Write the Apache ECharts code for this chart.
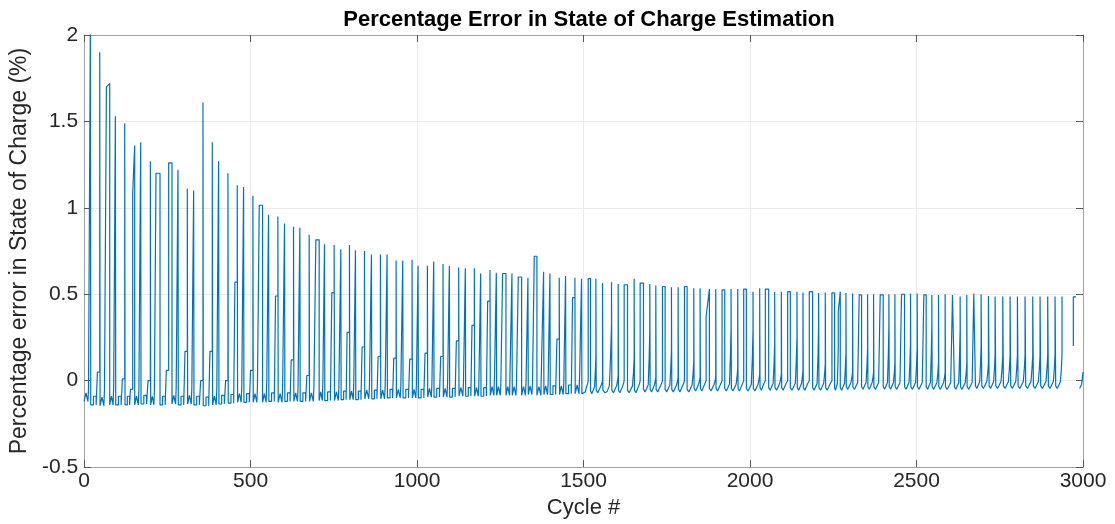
<!DOCTYPE html>
<html>
<head>
<meta charset="utf-8">
<script src="https://cdn.jsdelivr.net/npm/echarts@6/dist/echarts.min.js"></script>
<style>
html,body{margin:0;padding:0;background:#fff;}
#chart{width:1115px;height:524px;}
</style>
</head>
<body>
<div id="chart"></div>
<script>
// Cycle at which each spike rises, and at which it falls back
const riseAt = [19,47,67,94,122,146,170,199,216,254,282,310,329,357,385,404,432,460,479,507,526,554,582,602,629,648,676,696,722,751,771,
  797,815,842,863,890,910,937,957,985,1003,1031,1050,1078,1097,1125,1145,1172,1191,1219,1238,1257,1285,1304,1333,1352,1380,1399,1427,1446,1474,1494,1514,
  1537,1557,1584,1604,1622,1652,1670,1699,1717,1737,1764,1784,1803,1831,1850,1868,1897,1916,1943,1963,1981,2009,2029,2046,2074,2094,2113,2141,2159,2178,2206,2226,2246,
  2265,2288,2308,2328,2353,2371,2391,2417,2435,2455,2482,2502,2522,2546,2566,2586,2608,2631,2651,2672,2694,2716,2736,2759,2781,2803,2826,2849,2871,2894,2916,2937,2971];
const fallAt = [20,48,77,95,123,152,171,200,228,264,283,311,330,358,386,405,433,461,480,508,536,555,583,603,630,649,677,706,723,752,772,
  798,816,843,864,891,911,938,958,986,1004,1032,1051,1079,1098,1126,1146,1173,1192,1220,1239,1267,1286,1314,1334,1360,1381,1400,1428,1447,1475,1495,1521,
  1538,1558,1585,1605,1632,1653,1680,1700,1718,1745,1765,1785,1811,1832,1851,1878,1898,1924,1944,1964,1989,2010,2030,2056,2075,2095,2121,2142,2160,2188,2207,2227,2254,
  2271,2289,2309,2335,2354,2372,2400,2418,2436,2464,2483,2503,2529,2547,2567,2587,2614,2632,2652,2677,2696,2718,2738,2761,2783,2805,2828,2851,2873,2896,2918,2939,2979];
// Error (%) at the top of each spike (value just before it falls)
const peakEnd = [2.1,1.90,1.72,1.53,1.49,1.36,1.38,1.27,1.20,1.26,1.22,1.11,1.10,1.61,1.38,1.27,1.20,1.13,1.12,1.07,1.015,0.96,0.95,0.91,0.89,0.885,0.845,0.815,0.79,0.785,0.76,
  0.785,0.755,0.75,0.73,0.73,0.73,0.695,0.695,0.70,0.665,0.665,0.69,0.675,0.665,0.655,0.65,0.65,0.62,0.64,0.625,0.62,0.62,0.60,0.595,0.72,0.63,0.62,0.595,0.605,0.595,0.59,0.59,
  0.59,0.565,0.57,0.56,0.555,0.59,0.565,0.56,0.55,0.545,0.54,0.54,0.545,0.535,0.535,0.53,0.53,0.525,0.53,0.53,0.53,0.515,0.535,0.53,0.515,0.515,0.515,0.515,0.51,0.515,0.508,0.51,0.508,
  0.515,0.508,0.505,0.497,0.50,0.50,0.497,0.50,0.50,0.50,0.505,0.505,0.497,0.495,0.495,0.50,0.495,0.487,0.495,0.505,0.50,0.49,0.487,0.487,0.487,0.487,0.487,0.487,0.487,0.487,0.487,0.487,0.485];
// Error (%) reached right at the rise of each spike
const peakOnset = [2.1,1.90,1.70,1.53,1.49,1.09,1.38,1.27,1.20,1.26,1.22,1.11,1.10,1.61,1.38,1.27,1.20,1.13,1.12,1.07,1.015,0.96,0.95,0.91,0.89,0.885,0.845,0.815,0.79,0.785,0.76,
  0.785,0.755,0.75,0.73,0.73,0.73,0.695,0.695,0.70,0.665,0.665,0.69,0.675,0.665,0.655,0.65,0.65,0.62,0.64,0.625,0.62,0.62,0.60,0.595,0.72,0.63,0.62,0.595,0.605,0.595,0.59,0.59,
  0.59,0.565,0.57,0.56,0.555,0.59,0.565,0.56,0.55,0.545,0.54,0.54,0.545,0.535,0.535,0.37,0.53,0.525,0.53,0.53,0.53,0.515,0.535,0.53,0.515,0.515,0.515,0.515,0.51,0.515,0.508,0.51,0.508,
  0.40,0.508,0.505,0.497,0.50,0.50,0.497,0.50,0.50,0.50,0.505,0.505,0.497,0.495,0.495,0.50,0.495,0.487,0.495,0.505,0.50,0.49,0.487,0.487,0.487,0.487,0.487,0.487,0.487,0.487,0.487,0.487,0.485];
// Intermediate level the trace sits at just before each spike
const preLevel = [-0.05,0.05,-0.05,-0.03,0.01,-0.05,-0.05,0.0,-0.05,0.06,-0.04,0.17,-0.04,0.0,0.17,-0.04,0.0,0.57,-0.03,0.06,-0.04,0.0,0.49,-0.03,0.12,-0.03,0.03,-0.03,0.0,0.51,-0.03,
  0.28,-0.02,0.195,-0.03,0.14,-0.03,0.13,-0.03,0.125,-0.03,0.16,-0.02,0.14,-0.02,0.23,-0.02,0.32,-0.02,0.46,0.03,-0.02,0.09,-0.02,0.0,-0.02,0.12,-0.02,0.24,-0.02,0.48,0.04,0.0,
  0.14,0.0,0.33,0.03,0.0,0.13,0.0,0.29,0.02,0.0,0.18,0.02,0.0,0.11,0.02,0.0,0.02,0.0,0.31,0.07,0.0,0.29,0.04,0.0,0.22,0.04,0.0,0.25,0.06,0.0,0.32,0.1,0.0,
  0.2,0.16,0.05,0.0,0.185,0.05,0.0,0.31,0.1,0.0,0.22,0.19,0.0,0.32,0.1,0.05,0.0,0.3,0.1,0.0,0.2,0.1,0.15,0.15,0.15,0.15,0.15,0.15,0.15,0.15,0.15,0.15,0.2];
// Level the trace falls to after each spike
const lowLevel = [-0.14,-0.145,-0.14,-0.14,-0.14,-0.14,-0.135,-0.14,-0.14,-0.135,-0.14,-0.135,-0.14,-0.145,-0.14,-0.135,-0.13,-0.125,-0.125,-0.125,-0.125,-0.12,-0.125,-0.12,-0.12,-0.12,-0.12,-0.115,-0.115,-0.115,-0.11,
  -0.11,-0.11,-0.105,-0.105,-0.105,-0.1,-0.1,-0.1,-0.1,-0.1,-0.095,-0.095,-0.095,-0.095,-0.09,-0.09,-0.09,-0.09,-0.085,-0.085,-0.085,-0.085,-0.085,-0.08,-0.085,-0.08,-0.08,-0.08,-0.075,-0.075,-0.075,-0.075,
  -0.07,-0.07,-0.07,-0.07,-0.07,-0.07,-0.065,-0.065,-0.065,-0.065,-0.065,-0.065,-0.065,-0.06,-0.06,-0.06,-0.06,-0.06,-0.06,-0.06,-0.06,-0.06,-0.055,-0.055,-0.055,-0.055,-0.055,-0.055,-0.055,-0.055,-0.055,
  -0.055,-0.055,-0.055,-0.05,-0.05,-0.05,-0.05,-0.05,-0.05,-0.05,-0.05,-0.05,-0.05,-0.05,-0.05,-0.05,-0.05,-0.05,-0.05,-0.05,-0.05,-0.045,-0.045,-0.045,-0.045,-0.045,-0.045,-0.045,-0.045,-0.045,-0.045,-0.045,-0.045];
const startValue = -0.12;
const endValues = [[2990, -0.045], [2996, -0.02], [3000, 0.05]];
const xTicks = [0, 500, 1000, 1500, 2000, 2500, 3000];
const yTicks = [-0.5, 0, 0.5, 1, 1.5, 2];

const pts = [[0, startValue]];
let pf = 0, pl = startValue;
for (let i = 0; i < riseAt.length; i++) {
  const r = riseAt[i], g = r - pf, pre = preLevel[i];
  if (r < 1500) {
    const a = pf + g * 0.3, b = pf + g * 0.6, c = r - Math.min(7, g * 0.3);
    pts.push([a, pl], [a, pl + 0.05], [b, pl + 0.05], [b, pl], [c, pl], [c, pre], [r, pre]);
  } else {
    pts.push([pf + g * 0.25, pl], [pf + g * 0.5, pl + 0.008], [r - g * 0.25, pl + 0.04], [r - g * 0.1, (pl + pre) / 2 + 0.02], [r, pre]);
  }
  pts.push([r, peakOnset[i]], [fallAt[i], peakEnd[i]], [fallAt[i], lowLevel[i] + (r >= 1500 ? 0.015 : 0)]);
  pf = fallAt[i]; pl = lowLevel[i];
}
endValues.forEach(p => pts.push(p));

const FONT = 'Liberation Sans, Arial, Helvetica, sans-serif';
const axisGrey = '#a3a3a3';
const gridGrey = '#ebebeb';
const txt = '#262626';

const chart = echarts.init(document.getElementById('chart'), null, {renderer: 'canvas'});
chart.setOption({
  animation: false,
  backgroundColor: '#ffffff',
  title: {
    text: 'Percentage Error in State of Charge Estimation',
    left: 584, top: 4, textAlign: 'center',
    textStyle: {fontFamily: FONT, fontSize: 22, fontWeight: 'bold', color: '#000'}
  },
  grid: {left: 81, right: 32, top: 35, bottom: 53},
  xAxis: [{
    type: 'value', min: 0, max: 3000, interval: 500, position: 'bottom',
    name: 'Cycle #', nameLocation: 'middle', nameGap: 26,
    nameTextStyle: {fontFamily: FONT, fontSize: 22, color: txt},
    axisLine: {show: true, onZero: false, lineStyle: {color: axisGrey, width: 1}},
    axisTick: {show: true, inside: true, length: 7, lineStyle: {color: '#555'}},
    axisLabel: {fontFamily: FONT, fontSize: 21, color: txt, margin: 4,
      formatter: v => xTicks.includes(v) ? String(v) : ''},
    splitLine: {show: true, lineStyle: {color: gridGrey, width: 1}}
  }, {
    type: 'value', min: 0, max: 3000, interval: 500, position: 'top',
    axisLine: {show: true, onZero: false, lineStyle: {color: axisGrey, width: 1}},
    axisTick: {show: true, inside: true, length: 7, lineStyle: {color: '#555'}},
    axisLabel: {show: false}, splitLine: {show: false}
  }],
  yAxis: [{
    type: 'value', min: -0.5, max: 2, interval: 0.5, position: 'left',
    name: 'Percentage error in State of Charge (%)', nameLocation: 'middle', nameGap: 45,
    nameTextStyle: {fontFamily: FONT, fontSize: 23, color: txt},
    axisLine: {show: true, onZero: false, lineStyle: {color: axisGrey, width: 1}},
    axisTick: {show: true, inside: true, length: 7, lineStyle: {color: '#555'}},
    axisLabel: {fontFamily: FONT, fontSize: 21, color: txt, margin: 6,
      formatter: v => yTicks.includes(v) ? String(v) : ''},
    splitLine: {show: true, lineStyle: {color: gridGrey, width: 1}}
  }, {
    type: 'value', min: -0.5, max: 2, interval: 0.5, position: 'right',
    axisLine: {show: true, onZero: false, lineStyle: {color: axisGrey, width: 1}},
    axisTick: {show: true, inside: true, length: 7, lineStyle: {color: '#555'}},
    axisLabel: {show: false}, splitLine: {show: false}
  }],
  series: [{
    type: 'line', xAxisIndex: 0, yAxisIndex: 0,
    data: pts, showSymbol: false, symbol: 'none', clip: true,
    lineStyle: {color: '#0072BD', width: 1.2},
    emphasis: {disabled: true}
  }]
});
</script>
</body>
</html>
